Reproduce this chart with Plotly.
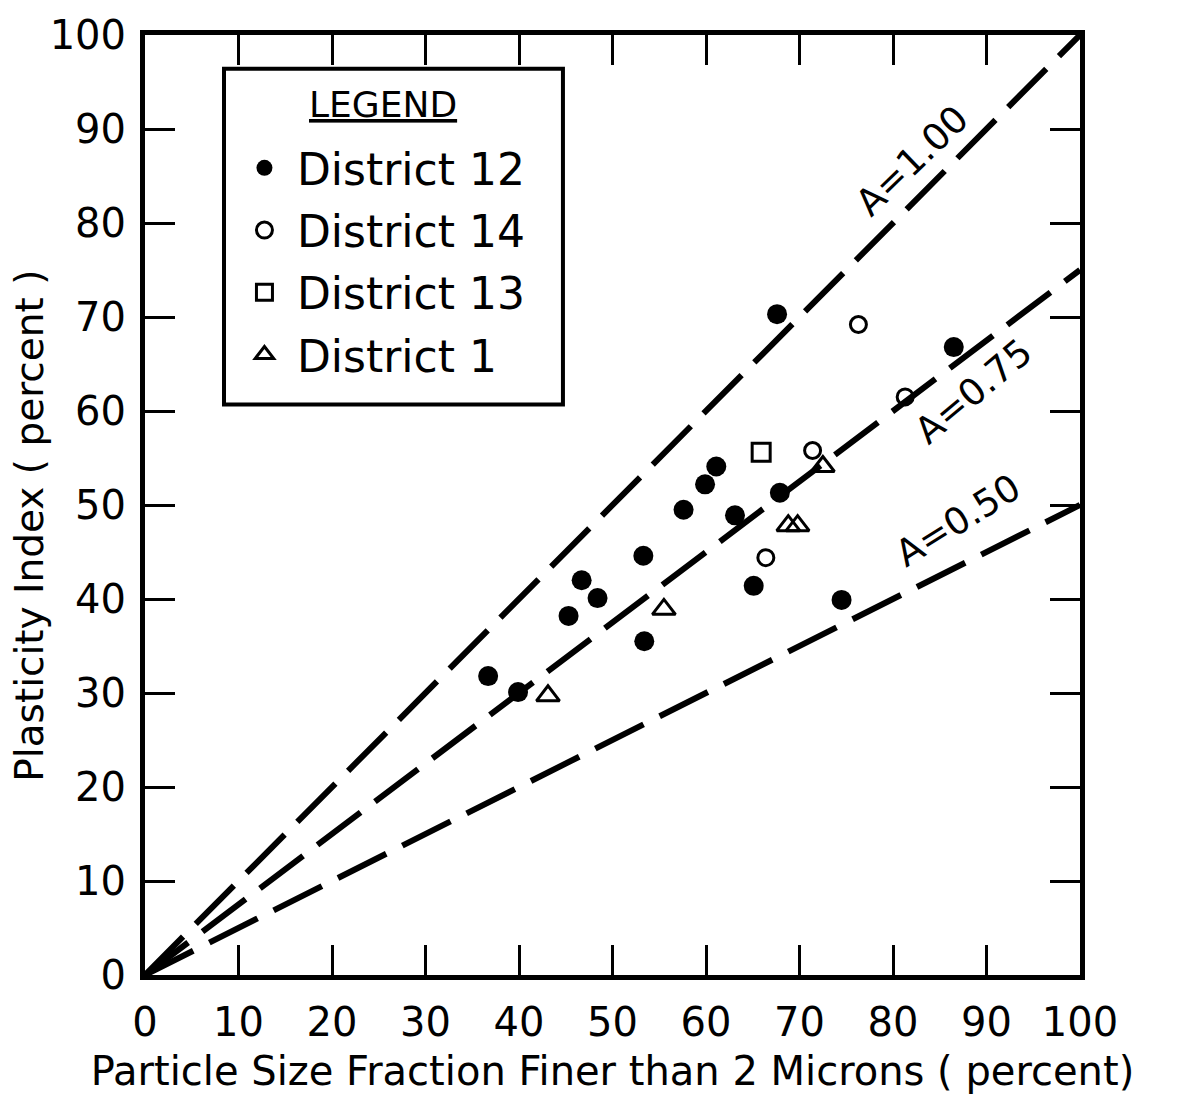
import plotly.graph_objects as go

# Fraction finer than 2 microns (%) and plasticity index (%) by district
d12_clay = [36.7, 39.9, 45.3, 46.7, 48.4, 53.3, 53.4, 57.6, 59.9, 61.1, 63.1, 65.1, 67.6, 67.9, 74.5, 86.5]
d12_pi = [31.8, 30.1, 38.2, 42.0, 40.1, 44.6, 35.5, 49.5, 52.2, 54.1, 48.9, 41.4, 70.3, 51.3, 39.9, 66.8]

d14_clay = [66.4, 71.4, 76.3, 81.3]
d14_pi = [44.4, 55.8, 69.2, 61.5]

d13_clay = [65.9]
d13_pi = [55.6]

d1_clay = [43.1, 55.5, 68.8, 69.8, 72.5]
d1_pi = [29.7, 38.9, 47.8, 47.8, 54.1]

# Activity reference lines: PI = A * (clay fraction)
activities = [1.00, 0.75, 0.50]
activity_labels = ["A=1.00", "A=0.75", "A=0.50"]

FONT = "DejaVu Sans"
INK = "black"

fig = go.Figure()

# dashed activity lines
for a in activities:
    fig.add_trace(go.Scatter(
        x=[0, 100], y=[0, a * 100], mode="lines",
        line=dict(color=INK, width=6, dash="54px,18px"),
        showlegend=False, hoverinfo="skip",
    ))

series = [
    ("District 12", d12_clay, d12_pi, dict(symbol="circle", size=20, color=INK)),
    ("District 14", d14_clay, d14_pi, dict(symbol="circle-open", size=16, color=INK, line=dict(width=3, color=INK))),
    ("District 13", d13_clay, d13_pi, dict(symbol="square-open", size=18, color=INK, line=dict(width=3, color=INK))),
    ("District 1", d1_clay, d1_pi, dict(symbol="triangle-up-open", size=20, color=INK, line=dict(width=3, color=INK))),
]
for name, xs, ys, mk in series:
    fig.add_trace(go.Scatter(
        x=xs, y=ys, mode="markers", name=name, marker=mk, legendgroup=name,
    ))

# line labels written along each line
label_pos = [(82.1, 86.6, -44), (88.6, 62.1, -40), (87.0, 48.3, -32)]
for text, (lx, ly, ang) in zip(activity_labels, label_pos):
    fig.add_annotation(x=lx, y=ly, text=text, showarrow=False, textangle=ang,
                       font=dict(family=FONT, size=37, color=INK))

# framed key with an underlined heading
fig.add_shape(type="rect", xref="paper", yref="paper",
              x0=0.0845, x1=0.447, y0=0.607, y1=0.964,
              line=dict(color=INK, width=4), fillcolor="white", layer="below")
fig.add_annotation(xref="paper", yref="paper", x=0.2545, y=0.926,
                   xanchor="center", yanchor="middle",
                   text="<u>LEGEND</u>", showarrow=False,
                   font=dict(family=FONT, size=36, color=INK))

# vertical axis caption
fig.add_annotation(xref="paper", yref="paper", x=-0.123, y=0.478,
                   xanchor="center", yanchor="middle", textangle=-90,
                   text="Plasticity Index ( percent )", showarrow=False,
                   font=dict(family=FONT, size=39, color=INK))

axis_common = dict(
    range=[0, 100], dtick=10, tick0=0,
    showline=True, linewidth=5, linecolor=INK, mirror="ticks",
    ticks="inside", ticklen=30, tickwidth=3, tickcolor=INK,
    showgrid=False, zeroline=False,
    tickfont=dict(family=FONT, size=40, color=INK),
)

fig.update_xaxes(**axis_common, ticklabelstandoff=8,
                 title=dict(text="Particle Size Fraction Finer than 2 Microns ( percent)",
                            font=dict(family=FONT, size=40, color=INK), standoff=14))
fig.update_yaxes(**axis_common, ticklabelstandoff=6)

fig.update_layout(
    width=1178, height=1102,
    margin=dict(l=145, r=98, t=23, b=127),
    paper_bgcolor="white", plot_bgcolor="white",
    font=dict(family=FONT, color=INK),
    legend=dict(
        x=0.093, y=0.896, xanchor="left", yanchor="top",
        bgcolor="rgba(0,0,0,0)", borderwidth=0,
        font=dict(family=FONT, size=44, color=INK),
        tracegroupgap=2, itemwidth=55,
    ),
)

fig.write_html("out.html")
